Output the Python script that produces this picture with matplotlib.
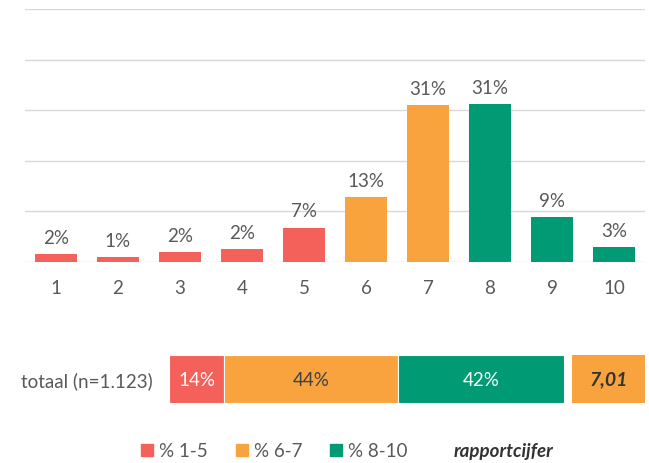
import matplotlib.pyplot as plt
from matplotlib.patches import Patch

plt.rcParams['font.family'] = ['Lato', 'DejaVu Sans']

# verdeling rapportcijfers
cijfers = ['1', '2', '3', '4', '5', '6', '7', '8', '9', '10']
aandeel = [1.6, 1.0, 2.0, 2.5, 6.8, 12.9, 31.0, 31.2, 8.8, 2.9]
labels = ['2%', '1%', '2%', '2%', '7%', '13%', '31%', '31%', '9%', '3%']
groep = [0, 0, 0, 0, 0, 1, 1, 2, 2, 2]

# totaal
totaal_naam = 'totaal (n=1.123)'
totaal_waarden = [14, 44, 42]
totaal_labels = ['14%', '44%', '42%']
rapportcijfer = '7,01'
legenda = ['% 1-5', '% 6-7', '% 8-10']

kleuren = ['#F3615A', '#F9A33F', '#009A74']
tekst_kleuren = ['white', '#404040', 'white']
grijs = '#595959'
fs = 13.5

fig = plt.figure(figsize=(6.49, 4.64), dpi=100)

# bovenste grafiek
ax = fig.add_axes([25/649, 1-263/464, 620/649, 253/464])
x = range(len(cijfers))
ax.bar(x, aandeel, width=0.68, color=[kleuren[g] for g in groep], zorder=3)
for i, (v, l) in enumerate(zip(aandeel, labels)):
    ax.text(i, v + 1.6, l, ha='center', va='bottom', fontsize=fs, color=grijs)
ax.set_xlim(-0.5, len(cijfers) - 0.5)
ax.set_ylim(0, 50)
ax.set_yticks([0, 10, 20, 30, 40, 50])
ax.yaxis.grid(True, color='#d9d9d9', linewidth=1, zorder=0)
ax.tick_params(left=False, labelleft=False, bottom=False, labelsize=fs, labelcolor=grijs, pad=9)
ax.set_xticks(list(x))
ax.set_xticklabels(cijfers)
for s in ax.spines.values():
    s.set_visible(False)

# totaalbalk
ax2 = fig.add_axes([169/649, 1-404/464, 476/649, 48/464])
start = 0
for v, l, c, tc in zip(totaal_waarden, totaal_labels, kleuren, tekst_kleuren):
    ax2.barh(0, v, left=start, height=1, color=c, edgecolor='white', linewidth=0.8)
    ax2.text(start + v/2, 0, l, ha='center', va='center', fontsize=fs, color=tc)
    start += v
ax2.barh(0, 18.5, left=102, height=1, color=kleuren[1])
ax2.text(102 + 9.25, 0, rapportcijfer, ha='center', va='center', fontsize=fs + 0.5,
         color='#333333', fontweight='bold', fontstyle='italic')
ax2.set_xlim(0, 120.5)
ax2.set_ylim(-0.5, 0.5)
ax2.set_yticks([0])
ax2.set_yticklabels([totaal_naam])
ax2.tick_params(left=False, bottom=False, labelbottom=False, labelsize=fs, labelcolor=grijs, pad=8)
for s in ax2.spines.values():
    s.set_visible(False)

# legenda
handles = [Patch(color=c) for c in kleuren] + [Patch(color='none')]
leg = fig.legend(handles, legenda + ['rapportcijfer'], loc='center', bbox_to_anchor=(0.535, 1-452/464),
                 ncol=4, frameon=False, fontsize=fs, handlelength=0.65, handleheight=0.65,
                 handletextpad=0.3, columnspacing=1.5)
for t in leg.get_texts():
    t.set_color(grijs)
leg.get_texts()[-1].set_fontweight('bold')
leg.get_texts()[-1].set_fontstyle('italic')
leg.get_texts()[-1].set_color('#333333')

fig.savefig('out.png', dpi=100)
